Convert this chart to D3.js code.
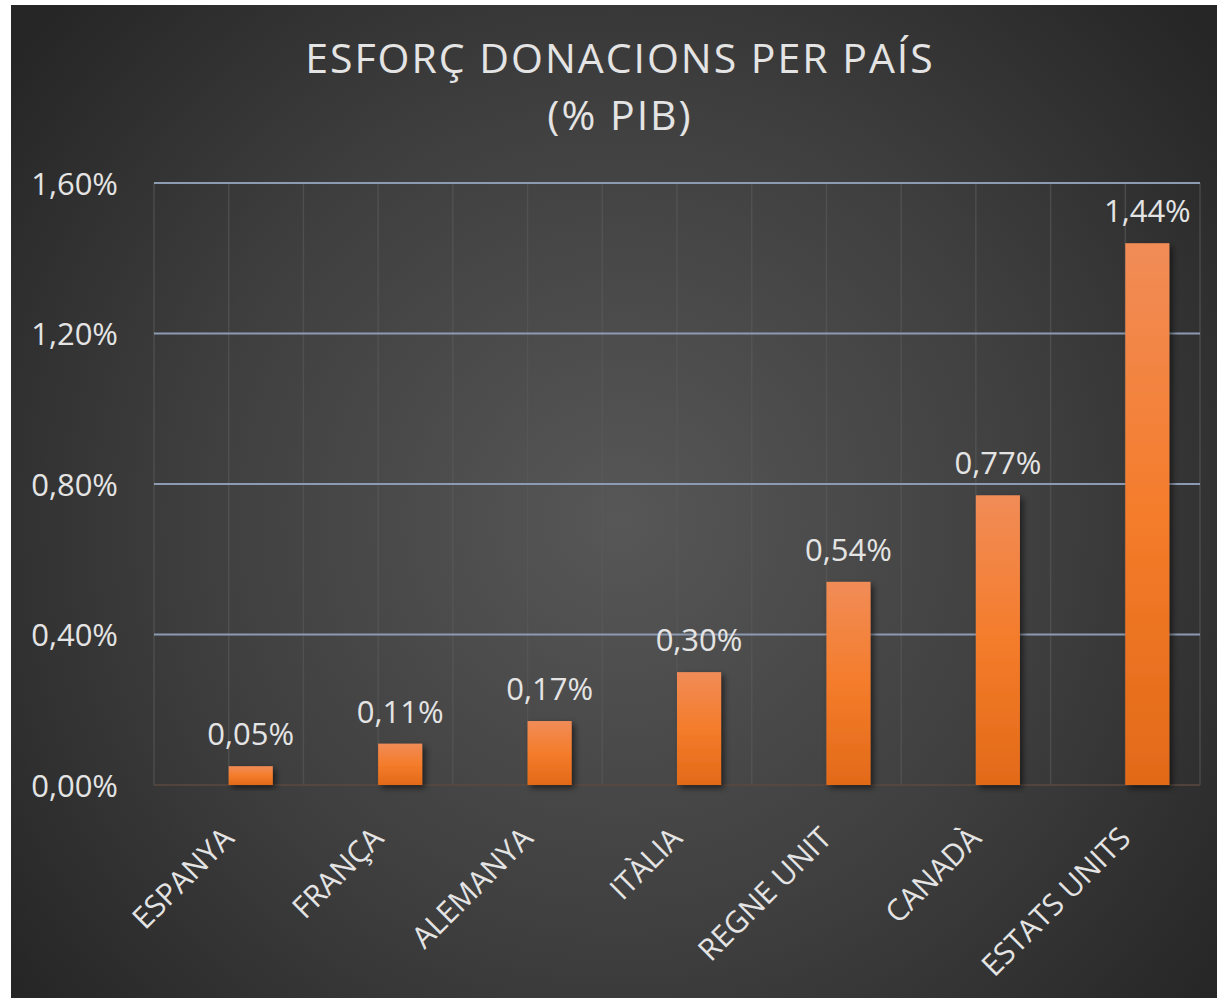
<!DOCTYPE html>
<html>
<head>
<meta charset="utf-8">
<script src="https://cdn.jsdelivr.net/npm/d3@7"></script>
<style>
  html, body { margin: 0; padding: 0; background: #fff; }
  svg text { font-family: "Open Sans", "Noto Sans", sans-serif; fill: #e4e4e4; }
</style>
</head>
<body>
<svg id="chart" width="1217" height="998"></svg>
<script>
var categories = ["ESPANYA", "FRANÇA", "ALEMANYA", "ITÀLIA", "REGNE UNIT", "CANADÀ", "ESTATS UNITS"];
var values = [0.05, 0.11, 0.17, 0.30, 0.54, 0.77, 1.44];
var yTicks = [0, 0.4, 0.8, 1.2, 1.6];
var titleLines = ["ESFORÇ DONACIONS PER PAÍS", "(% PIB)"];

var fmt = function(v) { return v.toFixed(2).replace(".", ",") + "%"; };

var margin = { top: 183, right: 17, bottom: 213, left: 154 },
    fullW = 1217, fullH = 998,
    width = fullW - margin.left - margin.right,
    height = fullH - margin.top - margin.bottom;

var svg = d3.select("#chart");
var defs = svg.append("defs");

var bg = defs.append("radialGradient")
  .attr("id", "bg")
  .attr("gradientUnits", "userSpaceOnUse")
  .attr("cx", 620).attr("cy", 520).attr("r", 760);
bg.append("stop").attr("offset", "0%").attr("stop-color", "#575757");
bg.append("stop").attr("offset", "55%").attr("stop-color", "#3f3f3f");
bg.append("stop").attr("offset", "100%").attr("stop-color", "#262626");

var barGrad = defs.append("linearGradient")
  .attr("id", "barGrad")
  .attr("x1", 0).attr("y1", 0).attr("x2", 0).attr("y2", 1);
barGrad.append("stop").attr("offset", "0%").attr("stop-color", "#f18c57");
barGrad.append("stop").attr("offset", "50%").attr("stop-color", "#f47c2b");
barGrad.append("stop").attr("offset", "100%").attr("stop-color", "#e26a18");

var shadow = defs.append("filter").attr("id", "shadow")
  .attr("x", "-20%").attr("y", "-20%").attr("width", "150%").attr("height", "150%");
shadow.append("feDropShadow")
  .attr("dx", 3).attr("dy", 3).attr("stdDeviation", 3)
  .attr("flood-color", "#000").attr("flood-opacity", 0.55);

// background panel
svg.append("rect")
  .attr("x", 11).attr("y", 5)
  .attr("width", fullW - 11).attr("height", fullH - 5)
  .attr("fill", "url(#bg)");

// title
svg.append("g").selectAll("text")
  .data(titleLines)
  .enter().append("text")
  .attr("x", 620)
  .attr("y", function(d, i) { return 73 + i * 57; })
  .attr("text-anchor", "middle")
  .style("font-size", "41px")
  .style("letter-spacing", "2px")
  .text(function(d) { return d; });

var canvas = svg.append("g")
  .attr("transform", "translate(" + margin.left + "," + margin.top + ")");

var x = d3.scaleBand().domain(categories).range([0, width]).padding(0);
var y = d3.scaleLinear().domain([0, 1.6]).range([height, 0]);

// vertical gridlines (category edges and centres)
var vLines = [];
categories.forEach(function(c) {
  vLines.push(x(c));
  vLines.push(x(c) + x.bandwidth() / 2);
});
vLines.push(width);
canvas.append("g").selectAll("line")
  .data(vLines)
  .enter().append("line")
  .attr("x1", function(d) { return d; })
  .attr("x2", function(d) { return d; })
  .attr("y1", 0).attr("y2", height)
  .attr("stroke", "#5a5a5a").attr("stroke-opacity", 0.6).attr("stroke-width", 1.5);

// horizontal gridlines
canvas.append("g").selectAll("line")
  .data(yTicks.filter(function(d) { return d > 0; }))
  .enter().append("line")
  .attr("x1", 0).attr("x2", width)
  .attr("y1", function(d) { return y(d); })
  .attr("y2", function(d) { return y(d); })
  .attr("stroke", "#8d9bb2").attr("stroke-width", 2.2);

// baseline
canvas.append("line")
  .attr("x1", 0).attr("x2", width)
  .attr("y1", y(0)).attr("y2", y(0))
  .attr("stroke", "#5b4a40").attr("stroke-width", 1.5);

// y tick labels
var yAxis = d3.axisLeft(y).tickValues(yTicks).tickFormat(fmt).tickSize(0).tickPadding(36);
var yg = canvas.append("g").call(yAxis);
yg.select(".domain").remove();
yg.selectAll("text")
  .attr("dy", "0.36em")
  .style("font-size", "31px")
  .style("fill", "#e4e4e4");

var barW = x.bandwidth() * 0.295;

canvas.selectAll(".bar")
  .data(values)
  .enter().append("rect")
  .attr("class", "bar")
  .attr("x", function(d, i) { return x(categories[i]) + x.bandwidth() / 2; })
  .attr("y", function(d) { return y(d); })
  .attr("width", barW)
  .attr("height", function(d) { return y(0) - y(d); })
  .attr("fill", "url(#barGrad)")
  .attr("filter", "url(#shadow)");

canvas.selectAll(".val")
  .data(values)
  .enter().append("text")
  .attr("class", "val")
  .attr("x", function(d, i) { return x(categories[i]) + x.bandwidth() / 2 + barW / 2; })
  .attr("y", function(d) { return y(d) - 21; })
  .attr("text-anchor", "middle")
  .style("font-size", "31px")
  .text(fmt);

// category labels
canvas.selectAll(".cat")
  .data(categories)
  .enter().append("text")
  .attr("class", "cat")
  .attr("text-anchor", "end")
  .attr("transform", function(d) {
    var cx = x(d) + x.bandwidth() / 2 + barW / 2 - 15;
    return "translate(" + cx + "," + (height + 55) + ") rotate(-45)";
  })
  .style("font-size", "30px")
  .text(function(d) { return d; });
</script>
</body>
</html>
